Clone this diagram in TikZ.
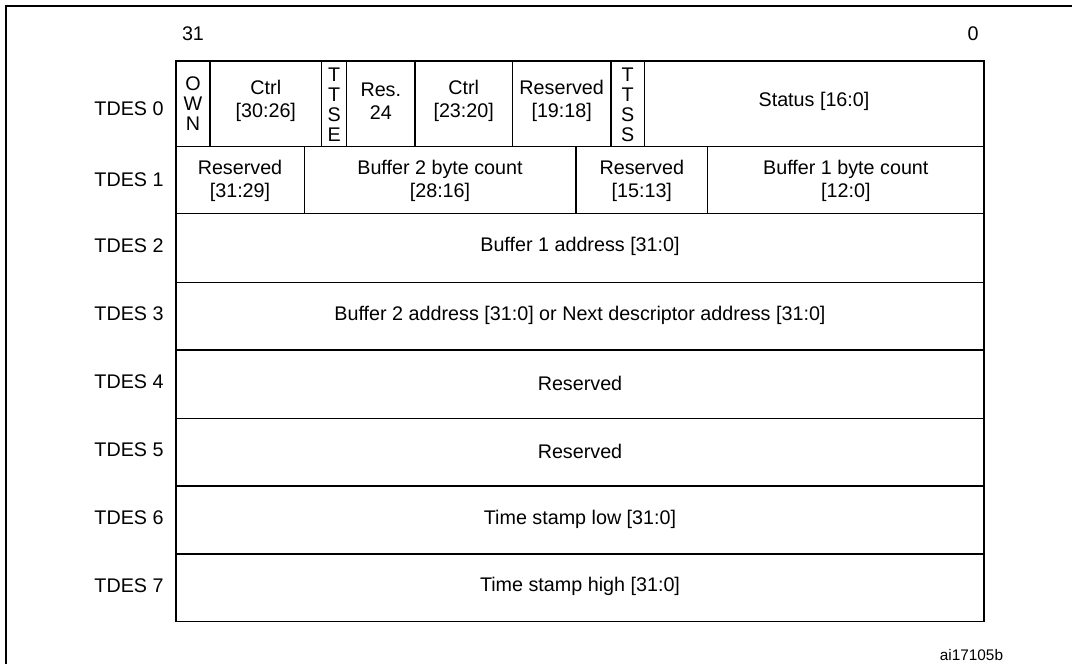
\documentclass[tikz,border=0pt]{standalone}
\usepackage{fontspec}
\setmainfont{Liberation Sans}

\begin{document}
\begin{tikzpicture}[x=0.75pt,y=-0.75pt,
    cell/.style={draw=black, line width=0.9pt},
    txt/.style={font=\fontsize{14.8}{17.5}\selectfont, align=center, inner sep=0pt},
    vtxt/.style={font=\fontsize{14.8}{15}\selectfont, align=center, inner sep=0pt}]
    \useasboundingbox (0,0) rectangle (1072,664);
    % page frame
    \draw[line width=1.5pt] (6,664) -- (6,6) -- (1072,6);
    % bit numbers
    \node[txt] (b31) at (193,34) {31};
    \node[txt] (b0) at (973,34) {0};

    % TDES 0
    \draw[cell] (176,61) rectangle (984,146.7);
    \foreach \xx in {210,321.7,346.7,415,512.3,611,644.3}{
        \draw[cell] (\xx,61) -- (\xx,146.7);
    }
    \node[txt] (l0) at (129,109) {TDES 0};
    \node[vtxt] (own) at (193,104) {O\\W\\N};
    \node[txt] (ctrla) at (265.8,101) {Ctrl\\{[30:26]}};
    \node[vtxt] (ttse) at (334.2,105) {T\\T\\S\\E};
    \node[txt] (res24) at (380.8,101) {Res.\\24};
    \node[txt] (ctrlb) at (463.7,101) {Ctrl\\{[23:20]}};
    \node[txt] (resa) at (561.7,101) {Reserved\\{[19:18]}};
    \node[vtxt] (ttss) at (627.7,105) {T\\T\\S\\S};
    \node[txt] (status) at (814,101) {Status [16:0]};

    % TDES 1
    \draw[cell] (176,146.7) rectangle (984,213.3);
    \foreach \xx in {304.3,576,707.7}{
        \draw[cell] (\xx,146.7) -- (\xx,213.3);
    }
    \node[txt] (l1) at (129,180) {TDES 1};
    \node[txt] (resb) at (240,181) {Reserved\\{[31:29]}};
    \node[txt] (bc2) at (440,181) {Buffer 2 byte count\\{[28:16]}};
    \node[txt] (resc) at (641.8,181) {Reserved\\{[15:13]}};
    \node[txt] (bc1) at (845.8,181) {Buffer 1 byte count\\{[12:0]}};

    % TDES 2 .. TDES 7
    \foreach \i/\ya/\yb/\lab in {2/213.3/282.3/{Buffer 1 address [31:0]},
        3/282.3/350/{Buffer 2 address [31:0] or Next descriptor address [31:0]},
        4/350/418.3/{Reserved},
        5/418.3/486/{Reserved},
        6/486/554/{Time stamp low [31:0]},
        7/554/621.7/{Time stamp high [31:0]}}{
        \draw[cell] (176,\ya) rectangle (984,\yb);
        \node[txt] (l\i) at (129,{(\ya+\yb)/2-2}) {TDES \i};
        \node[txt] (d\i) at (580,{(\ya+\yb)/2-1}) {\lab};
    }

    \node[txt, font=\fontsize{11.5}{13}\selectfont] (ref) at (971.5,655) {ai17105b};
\end{tikzpicture}
\end{document}
